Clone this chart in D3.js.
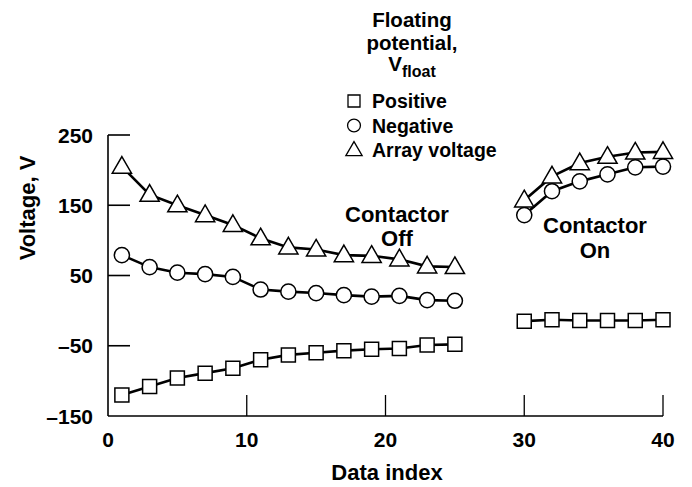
<!DOCTYPE html>
<html>
<head>
<meta charset="utf-8">
<script src="https://cdn.jsdelivr.net/npm/d3@7"></script>
<style>
  html, body { margin: 0; padding: 0; background: #fff; }
  svg { display: block; }
  text { font-family: "Liberation Sans", Arial, Helvetica, sans-serif; font-weight: bold; fill: #000; }
</style>
</head>
<body>
<svg id="chart" width="692" height="487"></svg>
<script>
// ---- Data ----
const indexOff = [1, 3, 5, 7, 9, 11, 13, 15, 17, 19, 21, 23, 25];
const positiveOff = [-120, -108, -96, -89, -82, -70, -63, -60, -57, -55, -54, -49, -48];
const negativeOff = [79, 62, 54, 52, 48, 30, 27, 25, 22, 20, 21, 15, 14];
const arrayOff = [205, 165, 150, 136, 122, 103, 90, 87, 79, 78, 73, 63, 62];

const indexOn = [30, 32, 34, 36, 38, 40];
const positiveOn = [-15, -13, -14, -14, -14, -13];
const negativeOn = [136, 170, 184, 194, 204, 205];
const arrayOn = [157, 191, 210, 219, 225, 226];

const xTicks = [0, 10, 20, 30, 40];
const xTickLabels = ["0", "10", "20", "30", "40"];
const yTicks = [-150, -50, 50, 150, 250];
const yTickLabels = ["\u2013150", "\u201350", "50", "150", "250"];

const legendLabels = ["Positive", "Negative", "Array voltage"];
const seriesShapes = ["square", "circle", "triangle"];

// ---- Layout ----
const svg = d3.select("#chart");
const x = d3.scaleLinear().domain([0, 40]).range([108, 663]);
const y = d3.scaleLinear().domain([-150, 250]).range([416, 135]);

// ---- Axes ----
const axisG = svg.append("g");
axisG.append("line").attr("x1", x(0)).attr("x2", x(0)).attr("y1", y(250)).attr("y2", y(-150))
  .attr("stroke", "#000").attr("stroke-width", 1.6);
axisG.append("line").attr("x1", x(0)).attr("x2", x(40)).attr("y1", y(-150)).attr("y2", y(-150))
  .attr("stroke", "#000").attr("stroke-width", 1.6);

// y ticks (inward)
yTicks.forEach((t, i) => {
  if (t !== -150) {
    axisG.append("line").attr("x1", x(0)).attr("x2", x(0) + 22).attr("y1", y(t)).attr("y2", y(t))
      .attr("stroke", "#000").attr("stroke-width", 1.6);
  }
  axisG.append("text").attr("x", 93).attr("y", y(t)).attr("dy", "0.36em")
    .attr("text-anchor", "end").attr("font-size", 21).text(yTickLabels[i]);
});
// x ticks (inward)
xTicks.forEach((t, i) => {
  if (t !== 0) {
    axisG.append("line").attr("x1", x(t)).attr("x2", x(t)).attr("y1", y(-150)).attr("y2", y(-150) - 21)
      .attr("stroke", "#000").attr("stroke-width", 1.3);
  }
  axisG.append("text").attr("x", x(t)).attr("y", 447)
    .attr("text-anchor", "middle").attr("font-size", 21).text(xTickLabels[i]);
});

// axis titles
svg.append("text").attr("x", 387).attr("y", 480).attr("text-anchor", "middle")
  .attr("font-size", 22).text("Data index");
svg.append("text").attr("transform", "translate(35,208) rotate(-90)")
  .attr("text-anchor", "middle").attr("font-size", 22).text("Voltage, V");

// ---- Series ----
const sym = {
  square: d3.symbol().type(d3.symbolSquare).size(196),
  circle: d3.symbol().type(d3.symbolCircle).size(180),
  triangle: d3.symbol().type(d3.symbolTriangle).size(160)
};
const legendSym = {
  square: d3.symbol().type(d3.symbolSquare).size(144),
  circle: d3.symbol().type(d3.symbolCircle).size(130),
  triangle: d3.symbol().type(d3.symbolTriangle).size(115)
};

const segments = [
  { idx: indexOff, vals: [positiveOff, negativeOff, arrayOff] },
  { idx: indexOn, vals: [positiveOn, negativeOn, arrayOn] }
];

const line = d3.line().x(d => x(d[0])).y(d => y(d[1]));

segments.forEach(seg => {
  seg.vals.forEach((vals, s) => {
    const pts = seg.idx.map((v, i) => [v, vals[i]]);
    svg.append("path").datum(pts).attr("d", line)
      .attr("fill", "none").attr("stroke", "#000").attr("stroke-width", 2.6);
  });
});
segments.forEach(seg => {
  seg.vals.forEach((vals, s) => {
    const pts = seg.idx.map((v, i) => [v, vals[i]]);
    const shape = seriesShapes[s];
    svg.append("g").selectAll("path").data(pts).join("path")
      .attr("d", sym[shape])
      .attr("transform", d => `translate(${x(d[0])},${y(d[1]) + (shape === "triangle" ? 1 : 0)})`)
      .attr("fill", "#fff").attr("stroke", "#000").attr("stroke-width", 1.5);
  });
});

// ---- Contactor labels ----
const offG = svg.append("g");
offG.append("text").attr("x", 397).attr("y", 222).attr("text-anchor", "middle").attr("font-size", 22).text("Contactor");
offG.append("text").attr("x", 397).attr("y", 246).attr("text-anchor", "middle").attr("font-size", 22).text("Off");
const onG = svg.append("g");
onG.append("text").attr("x", 595).attr("y", 233).attr("text-anchor", "middle").attr("font-size", 22).text("Contactor");
onG.append("text").attr("x", 595).attr("y", 258).attr("text-anchor", "middle").attr("font-size", 22).text("On");

// ---- Legend ----
const lg = svg.append("g");
const titleX = 412;
lg.append("text").attr("x", titleX).attr("y", 27).attr("text-anchor", "middle").attr("font-size", 20.5).text("Floating");
lg.append("text").attr("x", titleX).attr("y", 50).attr("text-anchor", "middle").attr("font-size", 20.5).text("potential,");
const vt = lg.append("text").attr("x", titleX).attr("y", 71).attr("text-anchor", "middle").attr("font-size", 20.5);
vt.append("tspan").text("V");
vt.append("tspan").attr("font-size", 16).attr("dy", 6).text("float");

legendLabels.forEach((lab, i) => {
  const cy = 101 + i * 24.5;
  lg.append("path").attr("d", legendSym[seriesShapes[i]])
    .attr("transform", `translate(354,${cy + (i === 2 ? 1 : 0)})`)
    .attr("fill", "#fff").attr("stroke", "#000").attr("stroke-width", 1.3);
  lg.append("text").attr("x", 372).attr("y", cy + 7).attr("font-size", 19.5).text(lab);
});
</script>
</body>
</html>
